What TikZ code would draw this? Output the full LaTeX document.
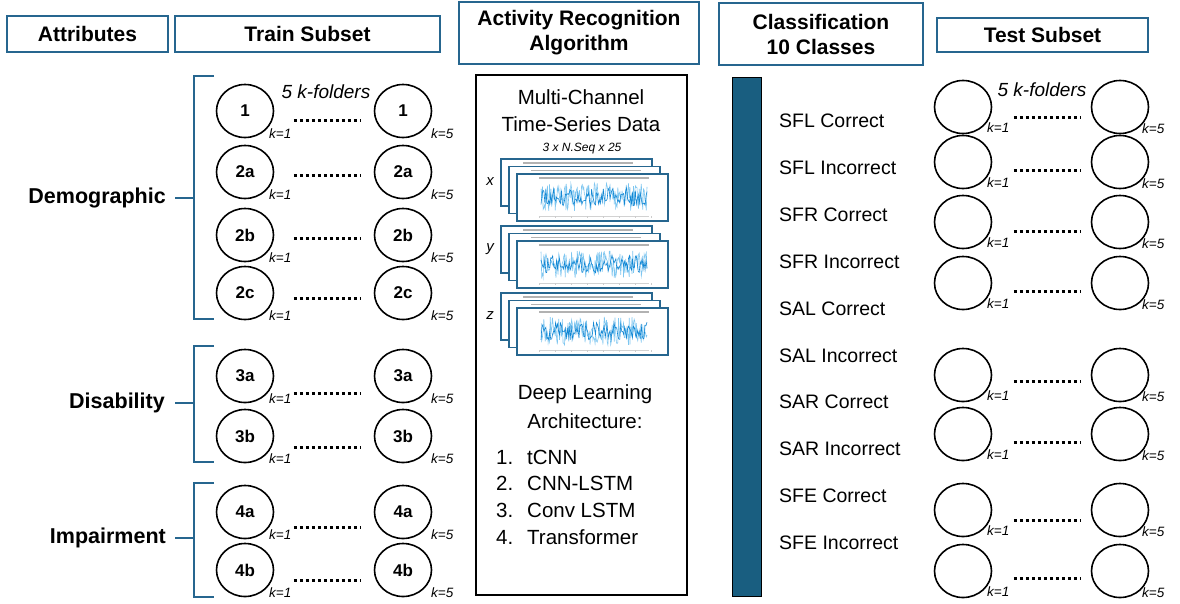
\documentclass[tikz,border=0pt]{standalone}
\usepackage{fontspec}
\setmainfont{Liberation Sans}
\usetikzlibrary{shapes.geometric}

\definecolor{hdrblue}{RGB}{38,102,143}
\definecolor{barblue}{RGB}{25,94,128}
\definecolor{sigblue}{RGB}{18,135,212}
\definecolor{siglight}{RGB}{125,198,240}

\tikzset{
    hdr/.style={draw=hdrblue, line width=1.4pt, fill=white, align=center, inner sep=0pt,
        font=\bfseries\fontsize{21}{25}\selectfont},
    fold/.style={ellipse, draw, line width=1.6pt, minimum width=57pt, minimum height=53pt,
        inner sep=0pt, font=\bfseries\fontsize{17}{19}\selectfont},
    klab/.style={anchor=west, inner sep=0pt, font=\itshape\fontsize{13.5}{15}\selectfont},
    kfold/.style={inner sep=0pt, font=\itshape\fontsize{19}{22}\selectfont},
    dotrow/.style={line width=3pt, dash pattern=on 2.8pt off 3.2pt},
    attr/.style={anchor=east, inner sep=0pt, font=\bfseries\fontsize{21.5}{25}\selectfont},
    cls/.style={anchor=west, inner sep=0pt, font=\fontsize{19.5}{22}\selectfont},
    body/.style={inner sep=0pt, font=\fontsize{20.5}{27}\selectfont},
    brk/.style={draw=hdrblue, line width=2pt},
    chanframe/.style={draw=hdrblue, line width=1.1pt, fill=white},
    chanlab/.style={inner sep=0pt, font=\itshape\fontsize{15}{17}\selectfont},
}

% one channel: three stacked sequence plots, #1 = top of the front plot
\newcommand{\chanstack}[2]{%
    \foreach \dx/\dy in {16/15,8/7.5,0/0} {
        \draw[chanframe] (517-\dx,#1-\dy) rectangle ++(151,47);
        \draw[gray!60, line width=1.2pt] (539-\dx,#1-\dy+4) -- ++(110,0);
    }
    \draw[gray!35, line width=0.5pt] (539,#1+42) -- ++(110,0);
    \foreach \t in {0,16,...,112} \draw[gray!40, line width=0.4pt] (539+\t,#1+42) -- ++(0,1.5);
    \draw[siglight, line width=0.6pt] plot[domain=541:647, samples=150] (\x,{#1+23+14*rand});
    \draw[sigblue, line width=0.6pt] plot[domain=541:647, samples=110] (\x,{#1+23+9*rand});
    \node[chanlab] (ch#2) at (490,#1+8) {#2};
}

\begin{document}
\begin{tikzpicture}[x=1pt, y=-1pt]
    \useasboundingbox (0,0) rectangle (1180,603);
    \pgfmathsetseed{42}

    \node[hdr, minimum width=161pt, minimum height=36pt] (attr) at (87.5,34) {Attributes};
    \node[hdr, minimum width=265pt, minimum height=36pt] (train) at (307.5,34) {Train Subset};
    \node[hdr, minimum width=240pt, minimum height=62pt] (algo) at (579,33) {Activity Recognition\\Algorithm};
    \node[hdr, minimum width=204pt, minimum height=62pt] (clsf) at (821,34) {Classification\\10 Classes};
    \node[hdr, minimum width=211pt, minimum height=34pt] (test) at (1042.5,35) {Test Subset};

    % attributes and their brackets
    \node[attr] (demo) at (166,198) {Demographic};
    \node[attr] (disab) at (165,403) {Disability};
    \node[attr] (impair) at (166,538) {Impairment};
    \draw[brk] (214,76) -- (194,76) -- (194,319) -- (214,319);
    \draw[brk] (214,346) -- (194,346) -- (194,462) -- (214,462);
    \draw[brk] (214,483) -- (194,483) -- (194,597) -- (214,597);
    \draw[brk] ([xshift=9pt]demo.east) -- ++(19pt,0);
    \draw[brk] ([xshift=10pt]disab.east) -- ++(19pt,0);
    \draw[brk] ([xshift=9pt]impair.east) -- ++(19pt,0);

    % train folds
    \node[kfold] (ktrain) at (326,92) {5 k-folders};
    \foreach \t/\y/\d in {1/111/9, 2a/172/3, 2b/235/3, 2c/293/5, 3a/376/17, 3b/436/11, 4a/512/15, 4b/570/10} {
        \node[fold] (a\t) at (245,\y) {\t};
        \node[fold] (b\t) at (403,\y) {\t};
        \node[klab] at ([xshift=24pt,yshift=-23pt]a\t.center) {k=1};
        \node[klab] at ([xshift=28pt,yshift=-23pt]b\t.center) {k=5};
        \draw[dotrow] ([xshift=19.5pt,yshift=-\d pt]a\t.east) -- ([xshift=-12.5pt,yshift=-\d pt]b\t.west);
    }

    % algorithm
    \node[draw, line width=1.3pt, minimum width=211pt, minimum height=520pt, inner sep=0pt] (algbox) at (581.5,335) {};
    \node[body, align=center] (mc) at (581,111) {Multi-Channel\\Time-Series Data};
    \node[inner sep=0pt, font=\itshape\fontsize{12}{14}\selectfont] (dims) at (582,149) {3 x N.Seq x 25};
    \chanstack{174}{x}
    \chanstack{241}{y}
    \chanstack{308}{z}
    \node[body, align=center, font=\fontsize{20.5}{29}\selectfont] (dl) at (585,407) {Deep Learning\\Architecture:};
    \node[body, align=left, anchor=west, font=\fontsize{20.5}{26.7}\selectfont] (arch) at (496,497)
        {\makebox[31pt][l]{1.}tCNN\\\makebox[31pt][l]{2.}CNN-LSTM\\\makebox[31pt][l]{3.}Conv LSTM\\\makebox[31pt][l]{4.}Transformer};

    % classes
    \node[draw, line width=1pt, fill=barblue, minimum width=29pt, minimum height=519pt, inner sep=0pt] (bar) at (746.5,336.5) {};
    \foreach \c [count=\i from 0] in {SFL Correct, SFL Incorrect, SFR Correct, SFR Incorrect, SAL Correct,
            SAL Incorrect, SAR Correct, SAR Incorrect, SFE Correct, SFE Incorrect}
        \node[cls] (c\i) at (779,120.8+46.9*\i) {\c};

    % test folds
    \node[kfold] (ktest) at (1042,90) {5 k-folders};
    \foreach \y/\d in {107/10, 162/8, 222/9, 283/8, 375/6, 434/8, 510/10, 571/7} {
        \node[fold] (p\y) at (963,\y) {};
        \node[fold] (q\y) at (1120,\y) {};
        \node[klab] at ([xshift=24pt,yshift=-21pt]p\y.center) {k=1};
        \node[klab] at ([xshift=22pt,yshift=-22pt]q\y.center) {k=5};
        \draw[dotrow] ([xshift=21.5pt,yshift=-\d pt]p\y.east) -- ([xshift=-9.5pt,yshift=-\d pt]q\y.west);
    }
\end{tikzpicture}
\end{document}
